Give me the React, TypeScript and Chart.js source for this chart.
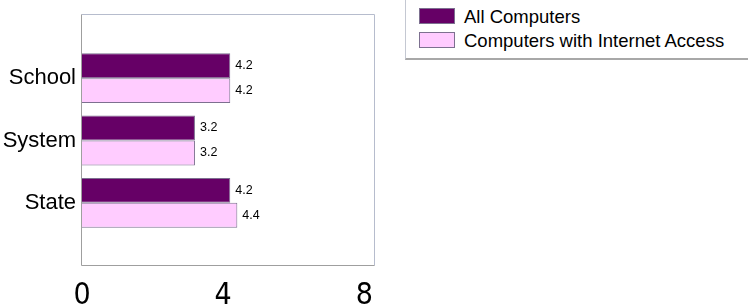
import React, { useEffect, useRef } from "react";
import { Chart, registerables } from "chart.js";

Chart.register(...registerables);

const categories = ["School", "System", "State"];
const allComputers = [4.2, 3.2, 4.2];
const internetComputers = [4.2, 3.2, 4.4];
const seriesNames = ["All Computers", "Computers with Internet Access"];
const xTickValues = [0, 4, 8];
const xMax = 8.3;

const DARK = "#660066";
const LIGHT = "#FFCCFF";
const BORDER = "#7d7090";

const boxPlugin = {
  id: "plotBox",
  beforeDatasetsDraw(chart: any) {
    const { ctx, chartArea } = chart;
    const slot = (chartArea.bottom - chartArea.top) / categories.length;
    const top = Math.round(chartArea.top - slot / 2 - 2) + 0.5;
    const bottom = Math.round(chartArea.bottom + slot / 2) + 0.5;
    const left = Math.round(chartArea.left) - 0.5;
    const right = Math.round(chartArea.right) - 0.5;
    ctx.save();
    ctx.lineWidth = 1;
    ctx.strokeStyle = "#b6bccd";
    ctx.beginPath();
    ctx.moveTo(left, top);
    ctx.lineTo(right, top);
    ctx.lineTo(right, bottom);
    ctx.stroke();
    ctx.strokeStyle = "#9f9f9f";
    ctx.beginPath();
    ctx.moveTo(left, top);
    ctx.lineTo(left, bottom);
    ctx.lineTo(right, bottom);
    ctx.stroke();
    ctx.restore();
  },
};

const valueLabelPlugin = {
  id: "valueLabels",
  afterDatasetsDraw(chart: any) {
    const { ctx } = chart;
    ctx.save();
    ctx.font = '12.5px "Liberation Sans", Arial, sans-serif';
    ctx.fillStyle = "#000";
    ctx.textAlign = "left";
    ctx.textBaseline = "middle";
    chart.data.datasets.forEach((ds: any, di: number) => {
      const meta = chart.getDatasetMeta(di);
      meta.data.forEach((el: any, i: number) => {
        const v = ds.data[i];
        ctx.fillText(v.toFixed(1), el.x + 5, el.y);
      });
    });
    ctx.restore();
  },
};

export default function App() {
  const ref = useRef<HTMLCanvasElement | null>(null);

  useEffect(() => {
    if (!ref.current) return;
    const chart = new Chart(ref.current, {
      type: "bar",
      data: {
        labels: categories,
        datasets: [
          {
            label: seriesNames[0],
            data: allComputers,
            backgroundColor: DARK,
            borderColor: BORDER,
            borderWidth: 1,
            categoryPercentage: 0.8,
            barPercentage: 1.0,
          },
          {
            label: seriesNames[1],
            data: internetComputers,
            backgroundColor: LIGHT,
            borderColor: BORDER,
            borderWidth: 1,
            categoryPercentage: 0.8,
            barPercentage: 1.0,
          },
        ],
      },
      options: {
        indexAxis: "y",
        responsive: false,
        animation: false,
        layout: { padding: { top: 47, right: 373, left: 0, bottom: 0 } },
        plugins: {
          legend: { display: false },
          tooltip: { enabled: false },
        },
        scales: {
          x: {
            type: "linear",
            min: 0,
            max: xMax,
            grid: { display: false, drawTicks: false },
            border: { display: false },
            afterFit: (scale: any) => {
              scale.height = 74;
            },
            afterBuildTicks: (scale: any) => {
              scale.ticks = xTickValues.map((v) => ({ value: v }));
            },
            ticks: {
              color: "#000",
              padding: 44,
              maxRotation: 0,
              font: {
                family: '"Liberation Sans Narrow", "DejaVu Sans Condensed", sans-serif',
                size: 30,
              },
            },
          },
          y: {
            type: "category",
            grid: { display: false, drawTicks: false },
            border: { display: false },
            afterFit: (scale: any) => {
              scale.width = 82;
            },
            ticks: {
              color: "#000",
              padding: 6,
              font: { family: '"Liberation Sans", Arial, sans-serif', size: 22 },
            },
          },
        },
      },
      plugins: [boxPlugin, valueLabelPlugin],
    } as any);
    return () => chart.destroy();
  }, []);

  const swatch = (color: string, top: number) => ({
    position: "absolute" as const,
    left: 13,
    top,
    width: 34,
    height: 14,
    background: color,
    border: `1px solid ${BORDER}`,
  });
  const label = (top: number) => ({
    position: "absolute" as const,
    left: 58,
    top,
    fontFamily: '"Liberation Sans", Arial, sans-serif',
    fontSize: 18.5,
    lineHeight: "20px",
    color: "#000",
    whiteSpace: "nowrap" as const,
  });

  return (
    <div
      style={{
        position: "fixed",
        left: 0,
        top: 0,
        width: 748,
        height: 308,
        background: "#fff",
        overflow: "hidden",
      }}
    >
      <canvas ref={ref} width={748} height={308} style={{ display: "block", width: 748, height: 308 }} />
      <div
        style={{
          position: "absolute",
          left: 405,
          top: -2,
          width: 360,
          height: 62,
          border: "1px solid #c4c8d2",
          borderBottom: "2px solid #a8a8a8",
          boxSizing: "border-box",
          background: "#fff",
        }}
      >
        <div style={swatch(DARK, 9)} />
        <div style={label(8)}>{seriesNames[0]}</div>
        <div style={swatch(LIGHT, 33)} />
        <div style={label(32)}>{seriesNames[1]}</div>
      </div>
    </div>
  );
}
